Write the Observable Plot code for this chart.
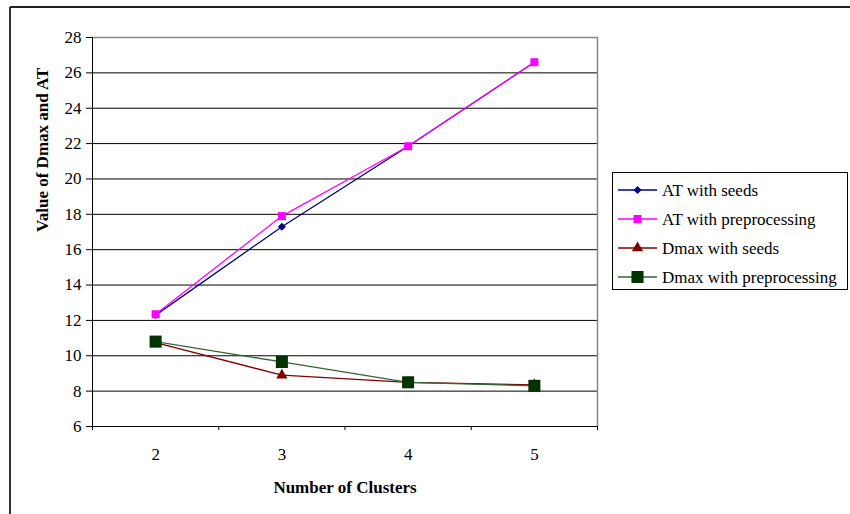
<!DOCTYPE html>
<html>
<head>
<meta charset="utf-8">
<script src="https://cdn.jsdelivr.net/npm/d3@7"></script>
<script src="https://cdn.jsdelivr.net/npm/@observablehq/plot@0.6"></script>
<style>
  html, body { margin: 0; padding: 0; background: #fff; }
  #chart { position: relative; width: 850px; height: 514px; }
  #chart svg, #chart svg text { font-family: 'Liberation Serif', 'Times New Roman', serif !important; }
</style>
</head>
<body>
<div id="chart"></div>
<script>
// ---- data ----
const clusters = [2, 3, 4, 5];
const atSeeds = [12.3, 17.3, 21.85, 26.6];
const atPre = [12.35, 17.9, 21.85, 26.6];
const dmaxSeeds = [10.75, 8.9, 8.5, 8.35];
const dmaxPre = [10.8, 9.65, 8.5, 8.3];
const seriesNames = ["AT with seeds", "AT with preprocessing", "Dmax with seeds", "Dmax with preprocessing"];
const yTicks = [6, 8, 10, 12, 14, 16, 18, 20, 22, 24, 26, 28];
const xTitle = "Number of Clusters";
const yTitle = "Value of Dmax and AT";

// ---- styles ----
const styles = [
  {line: "#000080", fill: "#000080", symbol: "diamond2", r: 3.6},
  {line: "#FF00FF", fill: "#FF00FF", symbol: "square", r: 4.5},
  {line: "#800000", fill: "#800000", symbol: "triangle", r: 4.2},
  {line: "#336633", fill: "#003300", symbol: "square", r: 6.8}
];
const valuesBySeries = [atSeeds, atPre, dmaxSeeds, dmaxPre];
const series = seriesNames.map((name, i) => ({
  name, ...styles[i],
  rows: clusters.map((c, j) => ({cluster: c, value: valuesBySeries[i][j]}))
}));

const xLo = clusters[0] - 0.5, xHi = clusters[clusters.length - 1] + 0.5;
const boundaries = [...clusters.map(c => c - 0.5), xHi];
const yMin = yTicks[0], yMax = yTicks[yTicks.length - 1];

const font = "'Liberation Serif', 'Times New Roman', serif";

const plot = Plot.plot({
  width: 850,
  height: 514,
  marginLeft: 92,
  marginRight: 253,
  marginTop: 37,
  marginBottom: 88,
  style: {fontFamily: font, fontSize: "17px", color: "#000", background: "#fff", overflow: "visible"},
  x: {type: "linear", domain: [xLo, xHi]},
  y: {domain: [yMin, yMax]},
  marks: [
    Plot.ruleY(yTicks.slice(1, -1), {stroke: "#000", strokeWidth: 1}),
    Plot.ruleY([yMax], {stroke: "#888", strokeWidth: 1.5}),
    Plot.ruleX([xHi], {stroke: "#888", strokeWidth: 1.5}),
    Plot.ruleX([xLo], {stroke: "#000", strokeWidth: 1}),
    Plot.ruleY([yMin], {stroke: "#000", strokeWidth: 1}),
    Plot.axisY({ticks: yTicks, tickSize: 6, tickPadding: 5, label: null, fontSize: 17, tickFormat: d => String(d)}),
    Plot.axisX({ticks: boundaries, tickSize: 4, tickFormat: () => "", label: null}),
    Plot.axisX({ticks: clusters, tickSize: 0, tickPadding: 21, label: null, fontSize: 17, tickFormat: d => String(d)}),
    Plot.text([xTitle], {frameAnchor: "bottom", dy: 61, fontWeight: "bold", fontSize: 17, lineAnchor: "middle"}),
    Plot.text([yTitle], {frameAnchor: "left", dx: -50, rotate: -90, fontWeight: "bold", fontSize: 17, lineAnchor: "middle"}),
    ...series.map(s => Plot.line(s.rows, {x: "cluster", y: "value", stroke: s.line, strokeWidth: 1.3})),
    ...series.map(s => Plot.dot(s.rows, {x: "cluster", y: "value", symbol: s.symbol, r: s.r, fill: s.fill, stroke: "none"}))
  ]
});

document.getElementById("chart").appendChild(plot);

// ---- decorations: outer border & legend ----
const svg = d3.select(plot);
svg.append("line").attr("x1", 10).attr("x2", 850).attr("y1", 7).attr("y2", 7)
  .attr("stroke", "#222").attr("stroke-width", 2);
svg.append("line").attr("x1", 10).attr("x2", 10).attr("y1", 7).attr("y2", 514)
  .attr("stroke", "#333").attr("stroke-width", 2);

const lg = svg.append("g").attr("font-family", font).attr("font-size", 17).attr("text-anchor", "start");
lg.append("rect").attr("x", 612.5).attr("y", 172.5).attr("width", 235).attr("height", 117)
  .attr("fill", "#fff").attr("stroke", "#000").attr("stroke-width", 1);
series.forEach((s, i) => {
  const y = 190 + i * 29;
  lg.append("line").attr("x1", 618).attr("x2", 657).attr("y1", y).attr("y2", y)
    .attr("stroke", s.line).attr("stroke-width", 1.5);
  const sym = {diamond2: d3.symbolDiamond2, square: d3.symbolSquare, triangle: d3.symbolTriangle}[s.symbol];
  lg.append("path").attr("transform", `translate(637.5,${y})`)
    .attr("d", d3.symbol(sym, Math.PI * s.r * s.r)())
    .attr("fill", s.fill);
  lg.append("text").attr("x", 662).attr("y", y).attr("dy", "0.35em")
    .attr("text-anchor", "start").attr("fill", "#000").text(s.name);
});
</script>
</body>
</html>
